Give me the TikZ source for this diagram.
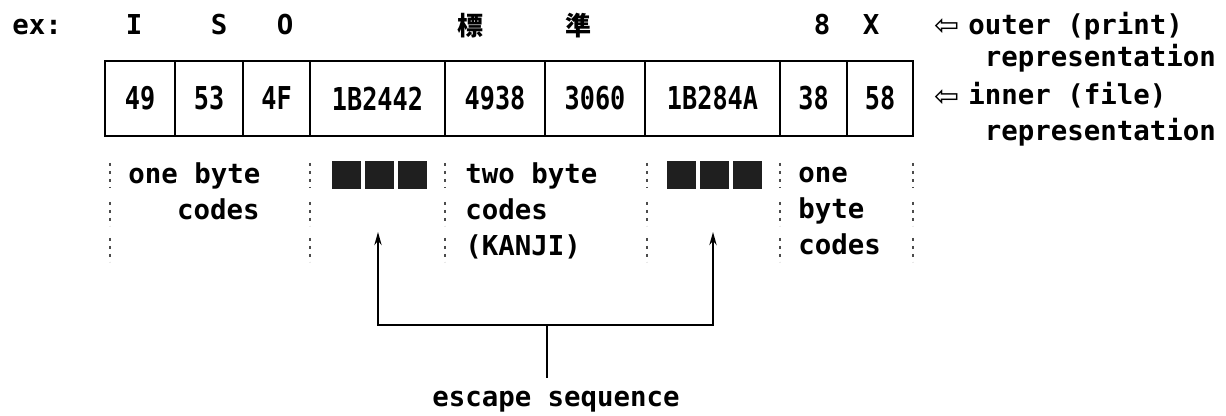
\documentclass[tikz,border=0pt]{standalone}
\usepackage{fontspec}
\usetikzlibrary{arrows.meta}
\newfontfamily\tfont{DejaVu Sans Mono}
\newfontfamily\nfont{DejaVu Sans Mono}[FakeStretch=0.8]
\newfontfamily\cjkfont{Noto Sans CJK JP}
\newfontfamily\symfont{DejaVu Sans}
\begin{document}
\begin{tikzpicture}[x=0.5pt,y=-0.5pt,
  >={Stealth[length=6.5pt,width=3.6pt]},
  txt/.style={font=\tfont\bfseries\fontsize{13.7}{18}\selectfont, inner sep=0pt, anchor=base west},
  txtc/.style={txt, anchor=base},
  kanji/.style={font=\cjkfont\bfseries\fontsize{13}{15}\selectfont, inner sep=0pt, anchor=base},
  cell/.style={draw, line width=1.2pt, minimum height=37.5pt, inner sep=0pt,
               font=\nfont\bfseries\fontsize{15.75}{18}\selectfont},
  harrow/.style={font=\symfont\fontsize{15}{15}\selectfont, inner sep=0pt},
  escbox/.style={fill=black!88, minimum width=14.5pt, minimum height=14pt, inner sep=0pt},
  sep/.style={line width=1.3pt, dash pattern=on 1.3pt off 2.7pt, black!70},
  conn/.style={line width=1.1pt}
]
\useasboundingbox (0,0) rectangle (1226,416);

% top row (outer representation)
\node[txt] (ex) at (12,35) {ex:};
\node[txtc] (oI) at (134,35) {I};
\node[txtc] (oS) at (219,35) {S};
\node[txtc] (oO) at (285,35) {O};
\node[kanji] (k1) at (470,36) {標};
\node[kanji] (k2) at (578,36) {準};
\node[txtc] (o8) at (822,35) {8};
\node[txtc] (oX) at (871,35) {X};

% cells (inner representation)
\node[cell, minimum width=35pt]   (c1) at (140,98.5)   {49};
\node[cell, minimum width=34pt]   (c2) at (209,98.5)   {53};
\node[cell, minimum width=33.5pt] (c3) at (276.5,98.5) {4F};
\node[cell, minimum width=67.5pt] (c4) at (377.5,98.5) {1B2442};
\node[cell, minimum width=50pt]   (c5) at (495,98.5)   {4938};
\node[cell, minimum width=50pt]   (c6) at (595,98.5)   {3060};
\node[cell, minimum width=67.5pt] (c7) at (712.5,98.5) {1B284A};
\node[cell, minimum width=33.5pt] (c8) at (813.5,98.5) {38};
\node[cell, minimum width=33pt]   (c9) at (880,98.5)   {58};

% right-hand labels
\node[harrow] (a1) at (947,27) {⇦};
\node[harrow] (a2) at (947,98) {⇦};
\node[txt] (r1) at (968,35)   {outer (print)};
\node[txt] (r2) at (984.5,67) {representation};
\node[txt] (r3) at (968,105)  {inner (file)};
\node[txt] (r4) at (984.5,141){representation};

% dotted separators
\foreach \x in {110,310,445,647,780,913}
  \foreach \a/\b in {163/188,202/226,238/262}
    \draw[sep] (\x,\a) -- (\x,\b);

% lower texts
\node[txt] (ob1) at (128,184) {one byte};
\node[txt, anchor=base east] (ob2) at (260,220) {codes};
\node[txt] (tb1) at (465,184) {two byte};
\node[txt] (tb2) at (465,220) {codes};
\node[txt] (tb3) at (465,256) {(KANJI)};
\node[txt] (ob3) at (798,183) {one};
\node[txt] (ob4) at (798,219) {byte};
\node[txt] (ob5) at (798,255) {codes};

% escape characters
\node[escbox] (e1a) at (346.5,175) {};
\node[escbox] (e1b) at (379.5,175) {};
\node[escbox] (e1c) at (412.5,175) {};
\node[escbox] (e2a) at (681.5,175) {};
\node[escbox] (e2b) at (714.5,175) {};
\node[escbox] (e2c) at (747.5,175) {};

% escape sequence bracket
\node[txtc] (escl) at (556,407) {escape sequence};
\coordinate (t1) at (378,232);
\coordinate (t2) at (713,232);
\coordinate (j1) at (378,325);
\coordinate (j2) at (713,325);
\coordinate (jm) at (547,325);
\coordinate (sb) at (547,378);
\draw[conn, <->] (t1) -- (j1) -- (j2) -- (t2);
\draw[conn] (jm) -- (sb);
\end{tikzpicture}
\end{document}
